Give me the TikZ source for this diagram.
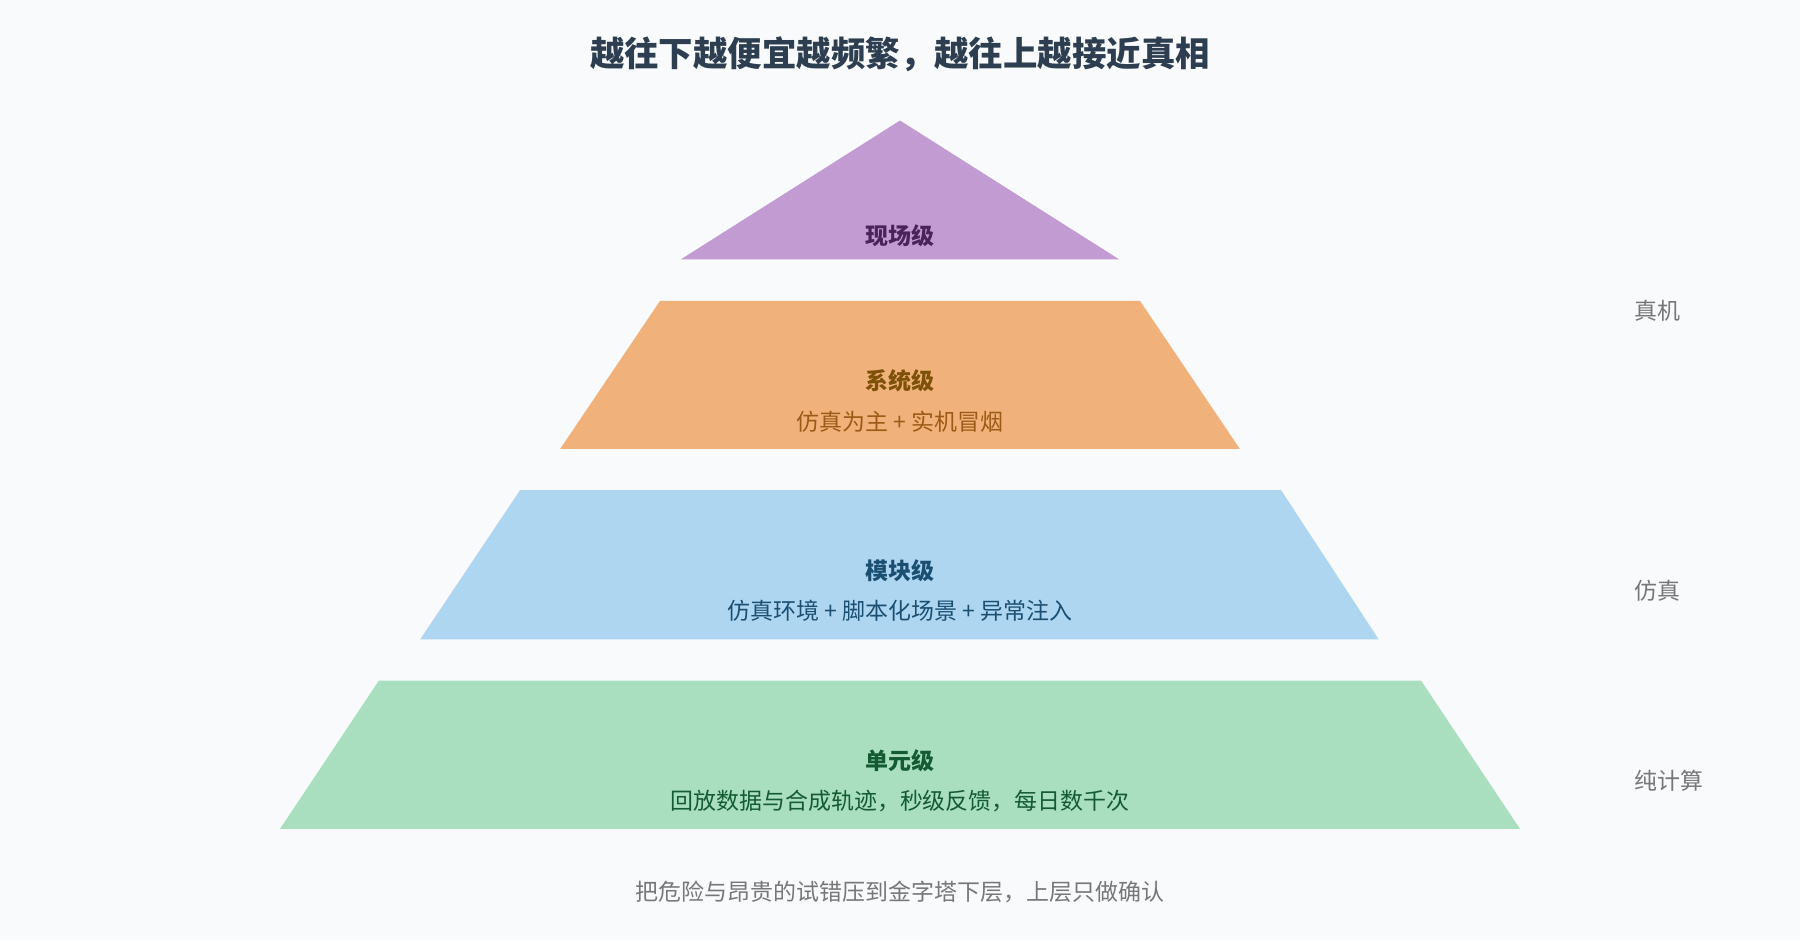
\documentclass[tikz,border=0pt]{standalone}
\usepackage{fontspec}
\setmainfont{Noto Sans CJK SC}
\newfontfamily\cjkb{Noto Sans CJK SC}[BoldFont={* Bold}]
\begin{document}
\begin{tikzpicture}[x=1pt,y=-1pt,
  lab/.style={font=\fontsize{20}{22}\selectfont\bfseries},
  sub/.style={font=\fontsize{20}{22}\selectfont},
  side/.style={font=\fontsize{20}{22}\selectfont,text=sidec,anchor=west}]
\definecolor{bg}{HTML}{F8FAFC}
\definecolor{c1}{HTML}{C39BD3}\definecolor{t1}{HTML}{4A235A}
\definecolor{c2}{HTML}{F0B27A}\definecolor{t2}{HTML}{7E5109}\definecolor{s2}{HTML}{9C5A16}
\definecolor{c3}{HTML}{AED6F1}\definecolor{t3}{HTML}{1B4F72}
\definecolor{c4}{HTML}{A9DFBF}\definecolor{t4}{HTML}{145A32}
\definecolor{sidec}{HTML}{777777}
\definecolor{titc}{HTML}{2C3E50}
\fill[bg] (0,0) rectangle (1568,819);
\useasboundingbox (0,0) rectangle (1568,819);
\node[font=\fontsize{30}{34}\selectfont\bfseries,text=titc] (title) at (784,47) {越往下越便宜越频繁，越往上越接近真相};
\fill[c1] (784,105) -- (975,226) -- (593,226) -- cycle;
\node[lab,text=t1] (l1) at (784,205) {现场级};
\fill[c2] (575,262) -- (993,262) -- (1080,391) -- (488,391) -- cycle;
\node[lab,text=t2] (l2) at (784,332) {系统级};
\node[sub,text=s2] (s2n) at (784,367) {仿真为主 + 实机冒烟};
\fill[c3] (453,427) -- (1116,427) -- (1201,557) -- (366,557) -- cycle;
\node[lab,text=t3] (l3) at (784,497) {模块级};
\node[sub,text=t3] (s3n) at (784,532) {仿真环境 + 脚本化场景 + 异常注入};
\fill[c4] (330,593) -- (1238,593) -- (1324,722) -- (244,722) -- cycle;
\node[lab,text=t4] (l4) at (784,663) {单元级};
\node[sub,text=t4] (s4n) at (784,698) {回放数据与合成轨迹，秒级反馈，每日数千次};
\node[side] (r1) at (1420,271) {真机};
\node[side] (r2) at (1420,515) {仿真};
\node[side] (r3) at (1420,680) {纯计算};
\node[sub,text=sidec] (foot) at (784,777) {把危险与昂贵的试错压到金字塔下层，上层只做确认};
\end{tikzpicture}
\end{document}
